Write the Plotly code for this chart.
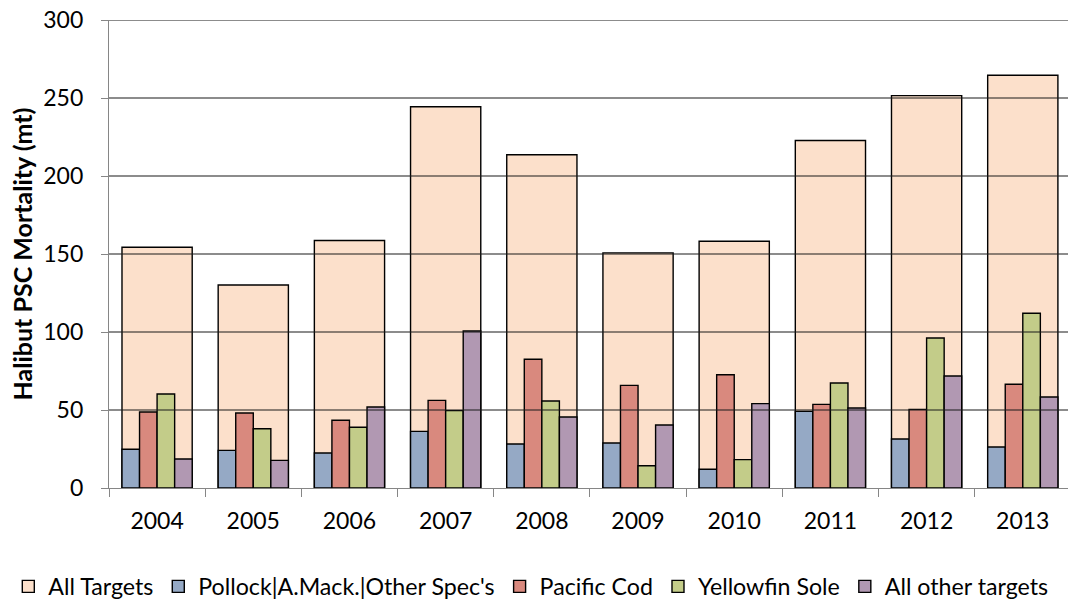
import plotly.graph_objects as go

years = ["2004", "2005", "2006", "2007", "2008", "2009", "2010", "2011", "2012", "2013"]
all_targets = [154.3, 130.1, 158.7, 244.4, 213.6, 150.7, 158.2, 222.8, 251.5, 264.6]
pollock = [24.8, 24.1, 22.4, 36.3, 28.2, 28.8, 12.0, 49.1, 31.4, 26.3]
pacific_cod = [48.7, 48.1, 43.4, 56.2, 82.5, 65.8, 72.6, 53.6, 50.4, 66.5]
yellowfin = [60.3, 38.0, 38.9, 49.6, 55.8, 14.3, 18.2, 67.3, 96.2, 112.0]
all_other = [18.6, 17.7, 51.9, 100.6, 45.5, 40.4, 54.1, 51.3, 71.8, 58.3]
y_ticks = [0, 50, 100, 150, 200, 250, 300]

FONT = "Lato"
outline = dict(color="#000000", width=1.4)

fig = go.Figure()
wide = 0.73
fig.add_trace(go.Bar(x=years, y=all_targets, name="All Targets", width=wide, offset=-wide / 2,
                     marker=dict(color="#FCE0CB", line=outline)))

narrow_series = [
    ("Pollock|A.Mack.|Other Spec's", pollock, "#95A9C5"),
    ("Pacific Cod", pacific_cod, "#D9897E"),
    ("Yellowfin Sole", yellowfin, "#C3CC89"),
    ("All other targets", all_other, "#B198B2"),
]
nw = wide / 4
for i, (name, vals, col) in enumerate(narrow_series):
    fig.add_trace(go.Bar(x=years, y=vals, name=name, width=nw, offset=-wide / 2 + i * nw,
                         marker=dict(color=col, line=outline)))

# gridlines drawn above bars, as in the reference
for t in y_ticks[1:]:
    fig.add_shape(type="line", xref="paper", yref="y", x0=0, x1=1, y0=t, y1=t,
                  line=dict(color="#1a1a1a", width=1.2), layer="above")

fig.update_layout(
    width=1068, height=601,
    margin=dict(l=109, r=0, t=20, b=113, autoexpand=False),
    plot_bgcolor="white", paper_bgcolor="white",
    barmode="overlay",
    font=dict(family=FONT, size=23, color="#000000"),
    showlegend=True,
    legend=dict(orientation="h", x=-0.105, xanchor="left", y=-0.211, yanchor="middle",
                font=dict(family=FONT, size=23.2), traceorder="normal",
                itemwidth=30, tracegroupgap=0, bgcolor="rgba(0,0,0,0)"),
    xaxis=dict(type="category", range=[-0.5, 9.47], tickson="boundaries",
               ticks="outside", ticklen=8, tickcolor="#868686", tickwidth=1.3,
               showline=True, linecolor="#868686", linewidth=1.3, automargin=False,
               showgrid=False, zeroline=False, ticklabelstandoff=12,
               tickfont=dict(family=FONT, size=23)),
    yaxis=dict(range=[0, 300], tickvals=y_ticks, ticks="outside", ticklen=7,
               tickcolor="#868686", tickwidth=1.3, showline=True, linecolor="#868686",
               linewidth=1.3, showgrid=False, zeroline=False, ticklabelstandoff=13,
               ticklabeloverflow="allow",
               automargin=False, tickfont=dict(family=FONT, size=23),
               title=dict(text="<b>Halibut PSC Mortality (mt)</b>", standoff=3,
                          font=dict(family=FONT, size=25))),
)

# remove the default page margin so the figure fills the window exactly
fig.write_html("out.html", config={"displayModeBar": False},
               post_script="document.body.style.margin='0';")
